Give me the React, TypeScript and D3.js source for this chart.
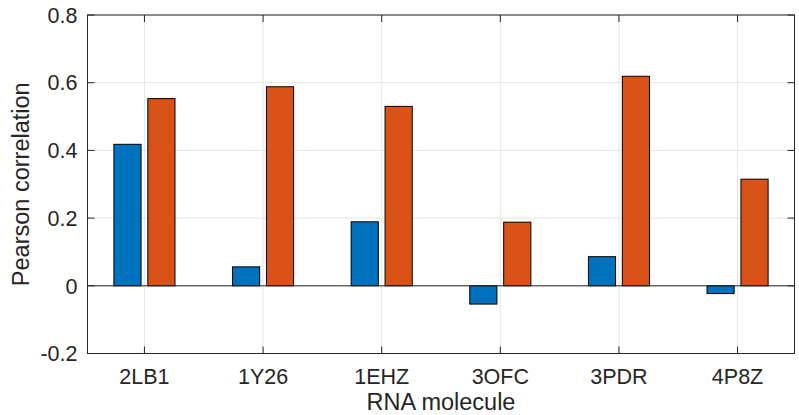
import React from "react";
import * as d3 from "d3";

const molecules = ["2LB1", "1Y26", "1EHZ", "3OFC", "3PDR", "4P8Z"];
const seriesA = [0.418, 0.056, 0.189, -0.054, 0.086, -0.023];
const seriesB = [0.553, 0.588, 0.53, 0.188, 0.619, 0.315];
const yTicks = [-0.2, 0, 0.2, 0.4, 0.6, 0.8];
const yTickLabels = ["-0.2", "0", "0.2", "0.4", "0.6", "0.8"];

const W = 799;
const H = 415;
const left = 87.5;
const right = 794.5;
const top = 15;
const bottom = 353.5;

const axisColor = "#262626";
const gridColor = "#e6e6e6";
const colors = ["#0072BD", "#D95319"];
const font = "'Liberation Sans', Arial, Helvetica, sans-serif";

export default function App() {
  const x = d3.scaleLinear().domain([0.52, 6.48]).range([left, right]);
  const y = d3.scaleLinear().domain([-0.2, 0.8]).range([bottom, top]);

  const unit = x(1) - x(0);
  const barW = 0.229 * unit;
  const offsets = [-0.143, 0.143];
  const series = [seriesA, seriesB];
  const tickLen = 7;

  return (
    <svg
      width={W}
      height={H}
      style={{ position: "absolute", left: 0, top: 0, background: "#fff" }}
    >
      <rect x={0} y={0} width={W} height={H} fill="#fff" />
      {/* grid */}
      {molecules.map((m, i) => (
        <line
          key={"gx" + m}
          x1={x(i + 1)}
          x2={x(i + 1)}
          y1={top}
          y2={bottom}
          stroke={gridColor}
        />
      ))}
      {yTicks.map((t) => (
        <line
          key={"gy" + t}
          x1={left}
          x2={right}
          y1={y(t)}
          y2={y(t)}
          stroke={gridColor}
        />
      ))}

      {/* bars */}
      {series.map((vals, s) =>
        vals.map((v, i) => {
          const cx = x(i + 1 + offsets[s]);
          const y0 = y(Math.max(0, v));
          const y1 = y(Math.min(0, v));
          return (
            <rect
              key={s + "-" + i}
              x={cx - barW / 2}
              y={y0}
              width={barW}
              height={y1 - y0}
              fill={colors[s]}
              stroke="#000"
              strokeWidth={1}
            />
          );
        })
      )}

      {/* baseline */}
      <line x1={left} x2={right} y1={y(0)} y2={y(0)} stroke={axisColor} strokeWidth={1} />

      {/* box */}
      <rect
        x={left}
        y={top}
        width={right - left}
        height={bottom - top}
        fill="none"
        stroke={axisColor}
        strokeWidth={1}
      />

      {/* x ticks */}
      {molecules.map((m, i) => (
        <g key={"xt" + m}>
          <line x1={x(i + 1)} x2={x(i + 1)} y1={bottom} y2={bottom - tickLen} stroke={axisColor} />
          <line x1={x(i + 1)} x2={x(i + 1)} y1={top} y2={top + tickLen} stroke={axisColor} />
          <text
            x={x(i + 1)}
            y={383.5}
            textAnchor="middle"
            fontFamily={font}
            fontSize={21.5}
            fill={axisColor}
          >
            {m}
          </text>
        </g>
      ))}

      {/* y ticks */}
      {yTicks.map((t, i) => (
        <g key={"yt" + t}>
          <line x1={left} x2={left + tickLen} y1={y(t)} y2={y(t)} stroke={axisColor} />
          <line x1={right} x2={right - tickLen} y1={y(t)} y2={y(t)} stroke={axisColor} />
          <text
            x={77.5}
            y={y(t)}
            dy="0.36em"
            textAnchor="end"
            fontFamily={font}
            fontSize={21.5}
            fill={axisColor}
          >
            {yTickLabels[i]}
          </text>
        </g>
      ))}

      {/* axis labels */}
      <text
        x={(left + right) / 2}
        y={410}
        textAnchor="middle"
        fontFamily={font}
        fontSize={23.5}
        fill={axisColor}
      >
        RNA molecule
      </text>
      <text
        transform={`translate(29,${(top + bottom) / 2}) rotate(-90)`}
        textAnchor="middle"
        fontFamily={font}
        fontSize={23.5}
        fill={axisColor}
      >
        Pearson correlation
      </text>
    </svg>
  );
}
